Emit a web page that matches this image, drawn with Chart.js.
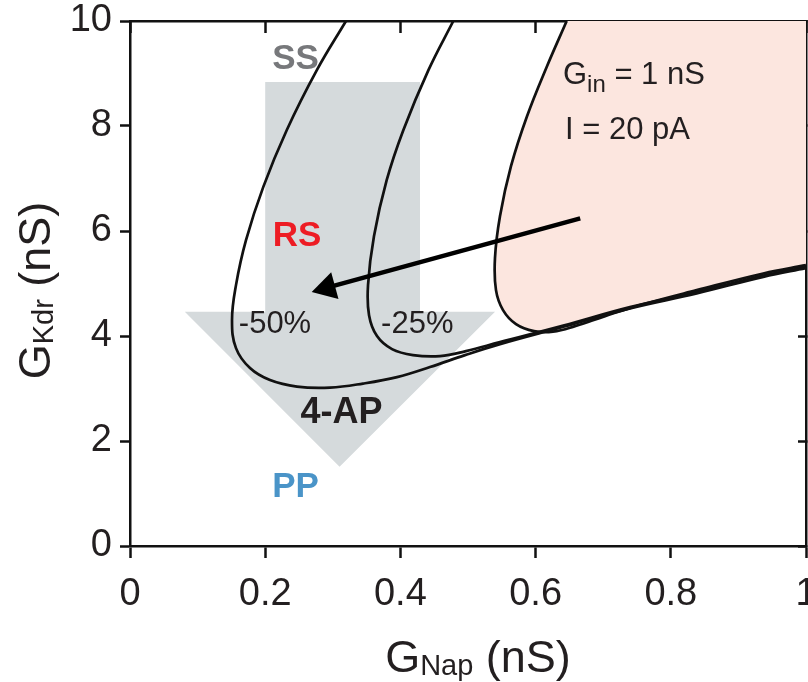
<!DOCTYPE html>
<html>
<head>
<meta charset="utf-8">
<script src="https://cdn.jsdelivr.net/npm/chart.js@4.4.1/dist/chart.umd.min.js"></script>
<style>
html,body{margin:0;padding:0;background:#ffffff;}
canvas{display:block;}
</style>
</head>
<body>
<canvas id="c" width="808" height="682" style="width:808px;height:682px"></canvas>
<script>
// ---------------- data ----------------
const xTickValues = [0, 0.2, 0.4, 0.6, 0.8, 1];
const yTickValues = [0, 2, 4, 6, 8, 10];

// -50% boundary curve (G_Nap, G_Kdr)
const curve50X = [0.3195, 0.2762, 0.2318, 0.1972, 0.1716, 0.1568, 0.1509, 0.1568, 0.1775, 0.2071, 0.2470, 0.2959, 0.3447, 0.3950, 0.4438, 0.4956, 0.5473, 0.6410, 0.7396, 0.8383, 0.9368, 1.0000];
const curve50Y = [10.00, 9.06, 7.92, 6.84, 5.825, 4.969, 4.302, 3.769, 3.389, 3.160, 3.036, 3.017, 3.094, 3.217, 3.408, 3.636, 3.845, 4.175, 4.525, 4.811, 5.127, 5.292];

// -25% boundary curve
const curve25X = [0.4783, 0.4413, 0.4043, 0.3797, 0.3609, 0.3521, 0.3536, 0.3654, 0.3876, 0.4186, 0.4586, 0.4970, 0.5473, 0.6410, 0.7396, 0.8383, 0.9368, 1.0000];
const curve25Y = [10.00, 9.06, 7.92, 6.967, 5.901, 4.969, 4.397, 3.998, 3.750, 3.636, 3.617, 3.712, 3.884, 4.198, 4.550, 4.835, 5.149, 5.311];

// control boundary (pink region)
const controlX = [0.6460, 0.6164, 0.5873, 0.5636, 0.5473, 0.5399, 0.5414, 0.5518, 0.5710, 0.5976, 0.6257, 0.6583, 0.7027, 0.7544, 0.8383, 0.9368, 1.0000];
const controlY = [10.00, 9.124, 8.186, 7.234, 6.282, 5.483, 4.873, 4.493, 4.226, 4.093, 4.083, 4.188, 4.379, 4.588, 4.873, 5.191, 5.349];

// big grey "4-AP" arrow outline
const grayArrowX = [0.200, 0.429, 0.429, 0.540, 0.310, 0.081, 0.200];
const grayArrowY = [8.84, 8.84, 4.46, 4.46, 1.51, 4.46, 4.46];

// black arrow (start, head centre)
const blackArrowX = [0.666, 0.2916];
const blackArrowY = [6.24, 4.92];

// ---------------- helpers ----------------
const FONT = "'Liberation Sans', Arial, Helvetica, sans-serif";
const TXT = '#231f20';
function pts(xs, ys){ return xs.map((x,i)=>({x:x, y:ys[i]})); }
// closed region: extend the curve along its end tangents, then close outside the axes
function region(xs, ys){
  const p = pts(xs, ys), n = p.length;
  const s = {x: 2*p[0].x - p[1].x, y: 2*p[0].y - p[1].y};
  const e = {x: 2*p[n-1].x - p[n-2].x, y: 2*p[n-1].y - p[n-2].y};
  return [s, ...p, e, {x: e.x, y: s.y}];
}

const labels = [
  {text:'SS',   x:0.245, y:9.32, size:35, weight:'bold',   color:'#77787b'},
  {text:'RS',   x:0.247, y:5.95, size:35, weight:'bold',   color:'#ed1c24'},
  {text:'-50%', x:0.2145,y:4.26, size:31, weight:'normal', color:TXT},
  {text:'-25%', x:0.425, y:4.26, size:31, weight:'normal', color:TXT},
  {text:'4-AP', x:0.313, y:2.58, size:36, weight:'bold',   color:TXT},
  {text:'PP',   x:0.245, y:1.18, size:35, weight:'bold',   color:'#4a94c8'}
];
const richLabels = [
  {x:0.6405, y:8.795, parts:[{t:'G',s:31,dy:0},{t:'in',s:24,dy:8},{t:' = 1 nS',s:31,dy:0}]},
  {x:0.6435, y:7.76,  parts:[{t:'I = 20 pA',s:31,dy:0}]}
];

function drawParts(ctx, parts, x, y, align){
  let total = 0;
  for (const p of parts){ ctx.font = `${p.s}px ${FONT}`; total += ctx.measureText(p.t).width; }
  let cx = align === 'center' ? x - total/2 : x;
  ctx.textAlign = 'left';
  ctx.textBaseline = 'alphabetic';
  for (const p of parts){
    ctx.font = `${p.s}px ${FONT}`;
    ctx.fillText(p.t, cx, y + p.dy);
    cx += ctx.measureText(p.t).width;
  }
}

const textPlugin = {
  id: 'texts',
  afterDatasetsDraw(chart){
    const ctx = chart.ctx, xs = chart.scales.x, ys = chart.scales.y;
    ctx.save();
    for (const a of labels){
      ctx.font = `${a.weight} ${a.size}px ${FONT}`;
      ctx.fillStyle = a.color;
      ctx.textAlign = 'center';
      ctx.textBaseline = 'alphabetic';
      ctx.fillText(a.text, xs.getPixelForValue(a.x), ys.getPixelForValue(a.y) + 0.358*a.size);
    }
    ctx.fillStyle = TXT;
    for (const r of richLabels){
      drawParts(ctx, r.parts, xs.getPixelForValue(r.x), ys.getPixelForValue(r.y), 'left');
    }
    ctx.restore();
  },
  afterDraw(chart){
    const ctx = chart.ctx, a = chart.chartArea;
    ctx.save();
    ctx.fillStyle = TXT;
    // x axis title
    drawParts(ctx, [{t:'G',s:45,dy:0},{t:'Nap',s:29,dy:3},{t:' (nS)',s:45,dy:0}],
              (a.left + a.right)/2 + 10, chart.height - 10, 'center');
    // y axis title (rotated)
    ctx.translate(50, (a.top + a.bottom)/2 + 7);
    ctx.rotate(-Math.PI/2);
    drawParts(ctx, [{t:'G',s:45,dy:0},{t:'Kdr',s:29,dy:3},{t:' (nS)',s:45,dy:0}], 0, 0, 'center');
    ctx.restore();
  }
};

const AX = '#111111';
function fixW(w){ return s => { s.width = w; s.paddingTop = 0; s.paddingBottom = 0; }; }
function fixH(h){ return s => { s.height = h; s.paddingLeft = 0; s.paddingRight = 0; }; }
const LW = 2.7;

new Chart(document.getElementById('c'), {
  type: 'scatter',
  data: {
    datasets: [
      { // grey arrow
        data: pts(grayArrowX, grayArrowY), showLine: true, fill: 'shape',
        backgroundColor: '#d5dadc', borderWidth: 0, pointRadius: 0, tension: 0, order: 10
      },
      { // pink control region
        data: region(controlX, controlY), showLine: true, fill: 'shape',
        backgroundColor: '#fce6df', borderWidth: 0, pointRadius: 0, tension: 0.4, order: 9
      },
      { data: pts(controlX, controlY), showLine: true, fill: false, borderColor: '#111', borderWidth: LW, pointRadius: 0, tension: 0.4, order: 5 },
      { data: pts(curve25X, curve25Y), showLine: true, fill: false, borderColor: '#111', borderWidth: LW, pointRadius: 0, tension: 0.4, order: 4 },
      { data: pts(curve50X, curve50Y), showLine: true, fill: false, borderColor: '#111', borderWidth: LW, pointRadius: 0, tension: 0.4, order: 3 },
      { // black arrow
        data: pts(blackArrowX, blackArrowY), showLine: true, fill: false, borderColor: '#000', borderWidth: 4.5,
        tension: 0, pointRadius: [0, 16], pointStyle: 'triangle', pointRotation: 254.7,
        pointBackgroundColor: '#000', pointBorderColor: '#000', pointBorderWidth: 0, order: 1
      }
    ]
  },
  options: {
    responsive: false,
    animation: false,
    events: [],
    layout: { padding: { top: 21, right: 2, left: 0, bottom: 0 }, autoPadding: false },
    plugins: { legend: { display: false }, tooltip: { enabled: false }, title: { display: false } },
    scales: {
      x: {
        type: 'linear', position: 'bottom', min: 0, max: 1,
        afterBuildTicks: s => { s.ticks = xTickValues.map(v => ({value: v})); },
        ticks: { font: { family: FONT, size: 38 }, color: TXT, padding: 14, maxRotation: 0,
                 callback: v => String(v) },
        grid: { drawOnChartArea: false, drawTicks: true, tickLength: 12, tickWidth: 2.5, tickColor: AX },
        border: { display: true, width: 2.5, color: AX },
        afterFit: fixH(136)
      },
      x2: {
        type: 'linear', position: 'top', min: 0, max: 1,
        afterBuildTicks: s => { s.ticks = xTickValues.map(v => ({value: v})); },
        ticks: { display: false },
        grid: { drawOnChartArea: false, drawTicks: true, tickLength: -12, tickWidth: 2.5, tickColor: AX },
        border: { display: true, width: 2.5, color: AX },
        afterFit: fixH(0)
      },
      y: {
        type: 'linear', position: 'left', min: 0, max: 10,
        afterBuildTicks: s => { s.ticks = yTickValues.map(v => ({value: v})); },
        ticks: { font: { family: FONT, size: 38 }, color: TXT, padding: 8, callback: v => String(v) },
        grid: { drawOnChartArea: false, drawTicks: true, tickLength: 10, tickWidth: 2.5, tickColor: AX },
        border: { display: true, width: 2.5, color: AX },
        afterFit: fixW(130)
      },
      y2: {
        type: 'linear', position: 'right', min: 0, max: 10,
        afterBuildTicks: s => { s.ticks = yTickValues.map(v => ({value: v})); },
        ticks: { display: false },
        grid: { drawOnChartArea: false, drawTicks: true, tickLength: -8, tickWidth: 2.5, tickColor: AX },
        border: { display: true, width: 2.5, color: AX },
        afterFit: fixW(0)
      }
    }
  },
  plugins: [textPlugin]
});
</script>
</body>
</html>
